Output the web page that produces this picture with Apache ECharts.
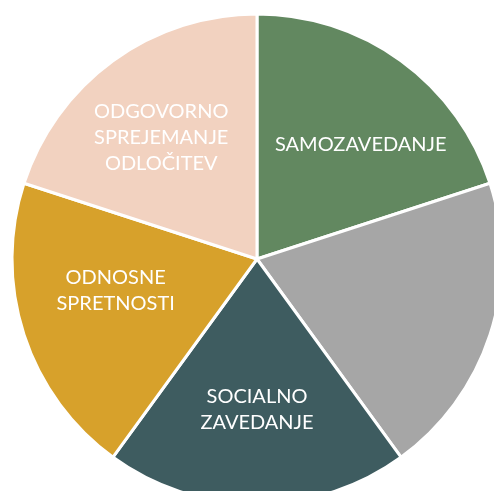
<!DOCTYPE html>
<html>
<head>
<meta charset="utf-8">
<script src="https://cdn.jsdelivr.net/npm/echarts@6/dist/echarts.min.js"></script>
<style>html,body{margin:0;padding:0;background:#fff}#c{width:494px;height:491px}</style>
</head>
<body>
<div id="c"></div>
<script>
const categories = ['SAMOZAVEDANJE', '', 'SOCIALNO\nZAVEDANJE', 'ODNOSNE\nSPRETNOSTI', 'ODGOVORNO\nSPREJEMANJE\nODLOČITEV'];
const values = [20, 20, 20, 20, 20];
const colors = ['#628860', '#a6a6a6', '#3e5c60', '#d7a12b', '#f2d2c0'];
const labelOffsets = [[30, -13], [0, 0], [0, 25], [-22, -7], [-22, -20]];

const chart = echarts.init(document.getElementById('c'), null, {renderer: 'canvas'});
chart.setOption({
  animation: false,
  series: [{
    type: 'pie',
    center: [257, 259],
    radius: [0, 245],
    startAngle: 90,
    clockwise: true,
    avoidLabelOverlap: false,
    itemStyle: {borderColor: '#ffffff', borderWidth: 3},
    label: {
      show: true,
      position: 'inside',
      color: '#ffffff',
      fontFamily: 'Lato',
      fontSize: 20,
      lineHeight: 26,
      align: 'center'
    },
    labelLine: {show: false},
    emphasis: {disabled: true},
    data: categories.map((name, i) => ({
      name: name,
      value: values[i],
      itemStyle: {color: colors[i]},
      label: {show: name !== '', offset: labelOffsets[i], formatter: '{b}'}
    }))
  }]
});
</script>
</body>
</html>
